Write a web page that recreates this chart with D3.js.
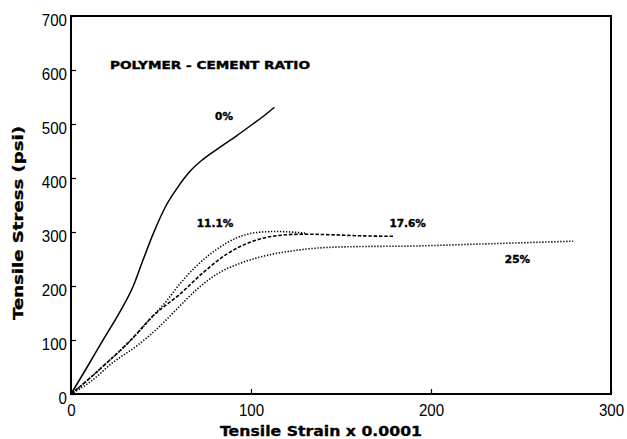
<!DOCTYPE html>
<html>
<head>
<meta charset="utf-8">
<script src="https://cdn.jsdelivr.net/npm/d3@7"></script>
<style>
  body { margin: 0; background: #fff; }
  svg { display: block; }
</style>
</head>
<body>
<div id="chart"></div>
<script>
// tensile strain (x 0.0001) vs stress (psi)
const ratios = ['0%', '11.1%', '17.6%', '25%'];

const strain0 = [0, 9, 18, 27, 34.6, 40, 45.7, 53, 58.7, 66, 73.5, 82.8, 92, 101, 106, 113];
const stress0 = [0, 50, 101, 151, 200, 248, 297, 350, 380, 412, 435, 457, 478, 500, 512, 531];

const strain11 = [0, 10, 18, 33, 45.7, 53, 60.5, 70, 81, 92.6, 103, 114, 122, 130];
const stress11 = [0, 28, 52, 99, 145, 172, 204, 238, 268, 290, 299, 301, 300, 298];

const strain17 = [0, 10, 18, 33, 45.7, 60.5, 73.5, 86.5, 99.4, 114, 129, 144, 160, 179];
const stress17 = [0, 28, 52, 99, 145, 185, 225, 259, 281, 293, 296, 295, 293, 292];

const strain25 = [0, 10.5, 23.5, 36.5, 47.6, 58.7, 70, 81, 95.7, 110.6, 125, 140, 160, 190, 220, 250, 279];
const stress25 = [0, 22, 59, 89, 120, 157, 194, 222, 244, 258, 266, 271, 273, 274, 277, 280, 283];

const xTicks = [0, 100, 200, 300];
const yTicks = [0, 100, 200, 300, 400, 500, 600, 700];

const width = 627, height = 439;
const margin = {left: 71, right: 15, top: 16, bottom: 45};

const svg = d3.select('#chart').append('svg')
    .attr('width', width)
    .attr('height', height);

const x = d3.scaleLinear().domain([0, 300]).range([margin.left, width - margin.right - 1]);
const y = d3.scaleLinear().domain([0, 700]).range([height - margin.bottom, margin.top]);

const series = [
    {name: ratios[0], xs: strain0, ys: stress0, dash: null, w: 1.5},
    {name: ratios[1], xs: strain11, ys: stress11, dash: '1.3,1.7', w: 1.6},
    {name: ratios[2], xs: strain17, ys: stress17, dash: '3.5,1.8', w: 1.6},
    {name: ratios[3], xs: strain25, ys: stress25, dash: '1.3,1.7', w: 1.6}
];

const line = d3.line()
    .x(d => x(d[0]))
    .y(d => y(d[1]))
    .curve(d3.curveMonotoneX);

svg.selectAll('path.curve')
    .data(series)
    .enter()
    .append('path')
    .attr('class', 'curve')
    .attr('d', d => line(d.xs.map((v, i) => [v, d.ys[i]])))
    .attr('fill', 'none')
    .attr('stroke', '#000')
    .attr('stroke-width', d => d.w)
    .attr('stroke-dasharray', d => d.dash);

// frame
svg.append('rect')
    .attr('x', x(0))
    .attr('y', y(700))
    .attr('width', x(300) - x(0))
    .attr('height', y(0) - y(700))
    .attr('fill', 'none')
    .attr('stroke', '#000')
    .attr('stroke-width', 2);

const tickFont = '"Liberation Sans", Arial, sans-serif';

const xAxis = svg.append('g')
    .attr('transform', `translate(0,${y(0)})`)
    .call(d3.axisBottom(x).tickValues(xTicks).tickSize(-5).tickPadding(10).tickFormat(d3.format('d')));
xAxis.select('.domain').remove();
xAxis.selectAll('line').attr('stroke-width', 1.2);
xAxis.selectAll('text')
    .attr('font-family', tickFont)
    .attr('font-size', '17px')
    .attr('textLength', d => String(d).length * 8.4)
    .attr('lengthAdjust', 'spacingAndGlyphs')
    .attr('fill', '#000');

const yAxis = svg.append('g')
    .attr('transform', `translate(${x(0)},0)`)
    .call(d3.axisLeft(y).tickValues(yTicks).tickSize(-5).tickPadding(4).tickFormat(d3.format('d')));
yAxis.select('.domain').remove();
yAxis.selectAll('line').attr('stroke-width', 1.2);
yAxis.selectAll('text')
    .attr('font-family', tickFont)
    .attr('font-size', '17px')
    .attr('dy', '0.55em')
    .attr('textLength', d => String(d).length * 8.4)
    .attr('lengthAdjust', 'spacingAndGlyphs')
    .attr('fill', '#000');

const boldFont = '"DejaVu Sans", Verdana, sans-serif';

svg.append('text')
    .attr('x', 321)
    .attr('y', 436)
    .attr('text-anchor', 'middle')
    .attr('font-family', boldFont)
    .attr('font-weight', 'bold')
    .attr('font-size', '14px')
    .attr('textLength', 202)
    .attr('lengthAdjust', 'spacingAndGlyphs')
    .attr('stroke', '#000')
    .attr('stroke-width', 0.3)
    .text('Tensile  Strain  x  0.0001');

svg.append('text')
    .attr('transform', 'translate(23,223) rotate(-90)')
    .attr('text-anchor', 'middle')
    .attr('font-family', boldFont)
    .attr('font-weight', 'bold')
    .attr('font-size', '14px')
    .attr('textLength', 194)
    .attr('lengthAdjust', 'spacingAndGlyphs')
    .attr('stroke', '#000')
    .attr('stroke-width', 0.3)
    .text('Tensile  Stress  (psi)');

svg.append('text')
    .attr('x', 110)
    .attr('y', 69)
    .attr('font-family', boldFont)
    .attr('font-weight', 'bold')
    .attr('font-size', '11px')
    .attr('textLength', 200)
    .attr('lengthAdjust', 'spacingAndGlyphs')
    .attr('stroke', '#000')
    .attr('stroke-width', 0.4)
    .text('POLYMER  -  CEMENT  RATIO');

// curve labels
const labelPos = [
    {t: ratios[0], sx: 85, sy: 515},
    {t: ratios[1], sx: 80, sy: 316},
    {t: ratios[2], sx: 187, sy: 316},
    {t: ratios[3], sx: 248, sy: 250}
];

svg.selectAll('text.lbl')
    .data(labelPos)
    .enter()
    .append('text')
    .attr('class', 'lbl')
    .attr('x', d => x(d.sx))
    .attr('y', d => y(d.sy))
    .attr('text-anchor', 'middle')
    .attr('font-family', boldFont)
    .attr('font-weight', 'bold')
    .attr('font-size', '10.5px')
    .attr('dy', '0.36em')
    .attr('stroke', '#000')
    .attr('stroke-width', 0.4)
    .text(d => d.t);
</script>
</body>
</html>
